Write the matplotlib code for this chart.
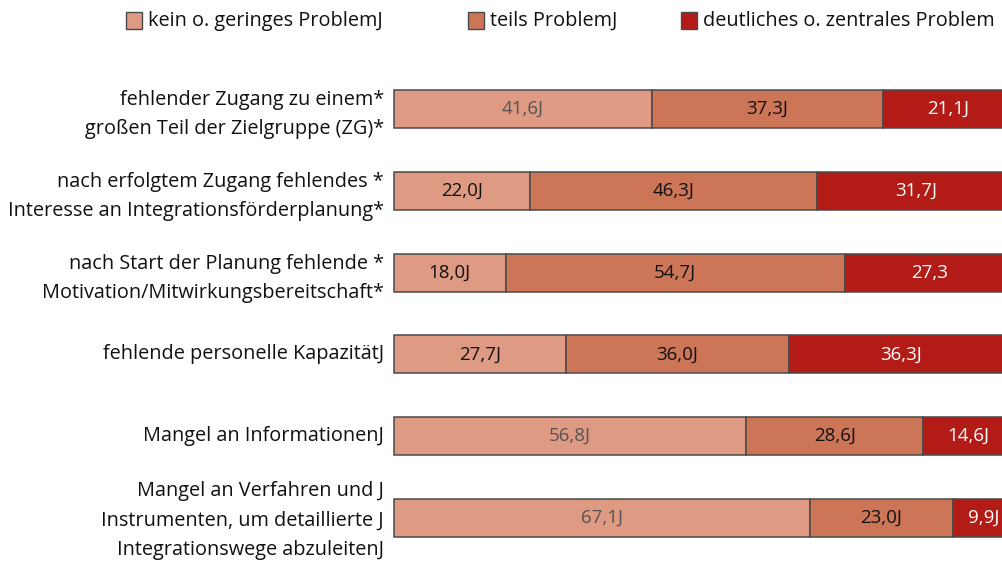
import matplotlib
matplotlib.use("Agg")
import matplotlib.pyplot as plt
from matplotlib.patches import Rectangle

categories = [
    "fehlender Zugang zu einem*\ngroßen Teil der Zielgruppe (ZG)*",
    "nach erfolgtem Zugang fehlendes *\nInteresse an Integrationsförderplanung*",
    "nach Start der Planung fehlende *\nMotivation/Mitwirkungsbereitschaft*",
    "fehlende personelle KapazitätJ",
    "Mangel an InformationenJ",
    "Mangel an Verfahren und J\nInstrumenten, um detaillierte J\nIntegrationswege abzuleitenJ",
]
series_names = ["kein o. geringes ProblemJ", "teils ProblemJ", "deutliches o. zentrales Problem"]
kein = [41.6, 22.0, 18.0, 27.7, 56.8, 67.1]
teils = [37.3, 46.3, 54.7, 36.0, 28.6, 23.0]
deutlich = [21.1, 31.7, 27.3, 36.3, 14.6, 9.9]
labels_kein = ["41,6J", "22,0J", "18,0J", "27,7J", "56,8J", "67,1J"]
labels_teils = ["37,3J", "46,3J", "54,7J", "36,0J", "28,6J", "23,0J"]
labels_deutlich = ["21,1J", "31,7J", "27,3", "36,3J", "14,6J", "9,9J"]

colors = ["#DE9A82", "#CD7557", "#B31B17"]
kein_text_colors = ["#555555", "#111111", "#111111", "#111111", "#555555", "#555555"]

plt.rcParams['font.family'] = ['Open Sans', 'DejaVu Sans']

W, H = 1003, 562
fig = plt.figure(figsize=(W / 100, H / 100), dpi=100)
ax_left = 394 / W
ax_width = 620 / W
top_px, bot_px = 68, 559
ax = fig.add_axes([ax_left, 1 - bot_px / H, ax_width, (bot_px - top_px) / H])
ax.set_xlim(0, 100)
ax.set_ylim(5.5, -0.5)
ax.axis("off")

ypos = list(range(len(categories)))
left = [0] * len(categories)
series = [kein, teils, deutlich]
labs = [labels_kein, labels_teils, labels_deutlich]
for si, vals in enumerate(series):
    bars = ax.barh(ypos, vals, left=left, height=0.465, color=colors[si],
                   edgecolor="#4a4a4a", linewidth=1.1, clip_on=False)
    for i, (b, v) in enumerate(zip(bars, vals)):
        if si == 0:
            tc = kein_text_colors[i]
        elif si == 1:
            tc = "#111111"
        else:
            tc = "white"
        ax.text(left[i] + v / 2, i, labs[si][i], ha="center", va="center",
                fontsize=13.5, color=tc, clip_on=False)
    left = [l + v for l, v in zip(left, vals)]

for i, c in enumerate(categories):
    n = c.count("\n")
    dy = {0: 0.0, 1: 0.07, 2: 0.03}[n]
    ax.text(-1.6, i + dy, c, ha="right", va="center", fontsize=14.3,
            color="#111111", linespacing=1.62, transform=ax.transData)

# legend
leg_patch_x = [126, 468, 681]
for x, name, col in zip(leg_patch_x, series_names, colors):
    fig.patches.append(Rectangle((x / W, 1 - 29 / H), 16 / W, 17 / H,
                                 transform=fig.transFigure, facecolor=col,
                                 edgecolor="#4a4a4a", linewidth=1.0))
    fig.text((x + 22) / W, 1 - 21 / H, name, ha="left", va="center",
             fontsize=14.3, color="#111111")

fig.savefig("out.png", dpi=100)
